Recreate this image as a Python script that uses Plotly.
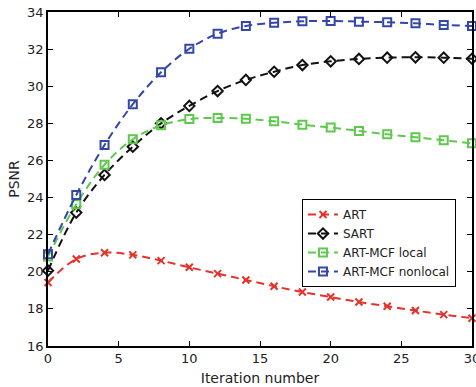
import plotly.graph_objects as go

iterations = [0, 2, 4, 6, 8, 10, 12, 14, 16, 18, 20, 22, 24, 26, 28, 30]
art = [19.42, 20.69, 21.03, 20.91, 20.60, 20.24, 19.90, 19.56, 19.22, 18.91, 18.64, 18.37, 18.14, 17.91, 17.69, 17.50]
sart = [20.06, 23.19, 25.22, 26.74, 28.00, 28.94, 29.74, 30.34, 30.78, 31.14, 31.34, 31.47, 31.54, 31.56, 31.54, 31.48]
mcf_local = [20.82, 23.64, 25.77, 27.14, 27.89, 28.23, 28.29, 28.25, 28.11, 27.93, 27.77, 27.59, 27.41, 27.25, 27.09, 26.92]
mcf_nonlocal = [20.95, 24.14, 26.83, 29.03, 30.75, 32.02, 32.83, 33.25, 33.42, 33.50, 33.52, 33.48, 33.45, 33.39, 33.30, 33.25]

series = [
    ("ART", art, "#e5322b", "x-thin-open", 7),
    ("SART", sart, "#111111", "diamond-open", 8),
    ("ART-MCF local", mcf_local, "#5ec94c", "square-open", 8),
    ("ART-MCF nonlocal", mcf_nonlocal, "#3446a8", "square-open", 8),
]

fig = go.Figure()
for name, vals, color, sym, size in series:
    fig.add_trace(go.Scatter(
        x=iterations, y=vals, name=name, mode="lines+markers",
        line=dict(color=color, width=2, dash="8px,5px", shape="spline"),
        marker=dict(symbol=sym, size=size, color=color, line=dict(color=color, width=2)),
        cliponaxis=False,
    ))

font = "DejaVu Sans, sans-serif"
axis_common = dict(
    showline=True, linecolor="black", linewidth=1.5, mirror="ticks",
    ticks="inside", ticklen=5, tickwidth=1, tickcolor="black",
    showgrid=False, zeroline=False, automargin=False,
    ticklabeloverflow="allow",
    tickfont=dict(family=font, size=13, color="#222"),
)
fig.update_xaxes(range=[0, 30], tickvals=[0, 5, 10, 15, 20, 25, 30],
                 title=dict(text="Iteration number", font=dict(family=font, size=14, color="#222"), standoff=8),
                 **axis_common)
fig.update_yaxes(range=[16, 34], tickvals=list(range(16, 35, 2)),
                 title=dict(text="PSNR", font=dict(family=font, size=14, color="#222"), standoff=4),
                 **axis_common)
fig.update_layout(
    width=476, height=387,
    margin=dict(l=48, r=4, t=12, b=41),
    paper_bgcolor="white", plot_bgcolor="white",
    legend=dict(x=0.599, y=0.44, xanchor="left", yanchor="top",
                bordercolor="black", borderwidth=1, bgcolor="white",
                font=dict(family=font, size=12, color="#222"),
                itemwidth=30, tracegroupgap=0),
    showlegend=True,
)
fig.write_html("out.html", config={"displayModeBar": False},
               post_script="document.body.style.margin='0';document.body.style.overflow='hidden';")
